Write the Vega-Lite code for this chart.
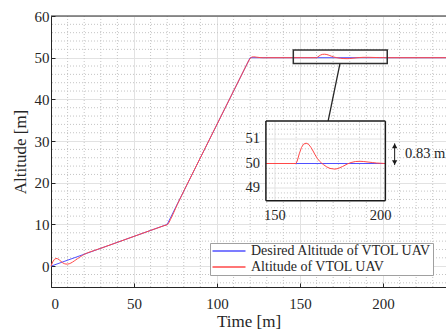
{
  "$schema": "https://vega.github.io/schema/vega-lite/v6.json",
  "width": 395,
  "height": 271,
  "autosize": {"type": "none"},
  "padding": {"left": 51, "top": 16, "right": 0, "bottom": 44},
  "config": {
    "view": {"stroke": null},
    "font": "Liberation Serif",
    "axis": {
      "labelFont": "Liberation Serif",
      "titleFont": "Liberation Serif",
      "labelColor": "#262626",
      "titleColor": "#262626",
      "domainColor": "#262626",
      "tickColor": "#262626",
      "labelFontWeight": "normal",
      "titleFontWeight": "normal"
    },
    "legend": {"labelFont": "Liberation Serif"}
  },
  "datasets": {
    "one": [{"k": 1}],
    "alt": [
      {"t": 0, "alt": 0, "s": "Desired Altitude of VTOL UAV"},
      {"t": 70, "alt": 10, "s": "Desired Altitude of VTOL UAV"},
      {"t": 120, "alt": 50, "s": "Desired Altitude of VTOL UAV"},
      {"t": 145.7, "alt": 50, "s": "Desired Altitude of VTOL UAV"},
      {"t": 202.2, "alt": 50, "s": "Desired Altitude of VTOL UAV"},
      {"t": 238, "alt": 50, "s": "Desired Altitude of VTOL UAV"},
      {"t": 0, "alt": 0, "s": "Altitude of VTOL UAV"},
      {"t": 1, "alt": 1.0, "s": "Altitude of VTOL UAV"},
      {"t": 2, "alt": 1.6, "s": "Altitude of VTOL UAV"},
      {"t": 3, "alt": 1.85, "s": "Altitude of VTOL UAV"},
      {"t": 4, "alt": 1.78, "s": "Altitude of VTOL UAV"},
      {"t": 5, "alt": 1.5, "s": "Altitude of VTOL UAV"},
      {"t": 6, "alt": 1.15, "s": "Altitude of VTOL UAV"},
      {"t": 7, "alt": 0.82, "s": "Altitude of VTOL UAV"},
      {"t": 8, "alt": 0.6, "s": "Altitude of VTOL UAV"},
      {"t": 9, "alt": 0.5, "s": "Altitude of VTOL UAV"},
      {"t": 10, "alt": 0.5, "s": "Altitude of VTOL UAV"},
      {"t": 11, "alt": 0.58, "s": "Altitude of VTOL UAV"},
      {"t": 12, "alt": 0.75, "s": "Altitude of VTOL UAV"},
      {"t": 13, "alt": 0.98, "s": "Altitude of VTOL UAV"},
      {"t": 14, "alt": 1.25, "s": "Altitude of VTOL UAV"},
      {"t": 15, "alt": 1.52, "s": "Altitude of VTOL UAV"},
      {"t": 16, "alt": 1.8, "s": "Altitude of VTOL UAV"},
      {"t": 17, "alt": 2.07, "s": "Altitude of VTOL UAV"},
      {"t": 18, "alt": 2.33, "s": "Altitude of VTOL UAV"},
      {"t": 19, "alt": 2.58, "s": "Altitude of VTOL UAV"},
      {"t": 20, "alt": 2.82, "s": "Altitude of VTOL UAV"},
      {"t": 22, "alt": 3.2, "s": "Altitude of VTOL UAV"},
      {"t": 24, "alt": 3.48, "s": "Altitude of VTOL UAV"},
      {"t": 26, "alt": 3.74, "s": "Altitude of VTOL UAV"},
      {"t": 30, "alt": 4.29, "s": "Altitude of VTOL UAV"},
      {"t": 40, "alt": 5.71, "s": "Altitude of VTOL UAV"},
      {"t": 50, "alt": 7.14, "s": "Altitude of VTOL UAV"},
      {"t": 60, "alt": 8.57, "s": "Altitude of VTOL UAV"},
      {"t": 68, "alt": 9.69, "s": "Altitude of VTOL UAV"},
      {"t": 70, "alt": 9.92, "s": "Altitude of VTOL UAV"},
      {"t": 71, "alt": 10.4, "s": "Altitude of VTOL UAV"},
      {"t": 72, "alt": 11.2, "s": "Altitude of VTOL UAV"},
      {"t": 74, "alt": 12.9, "s": "Altitude of VTOL UAV"},
      {"t": 76, "alt": 14.7, "s": "Altitude of VTOL UAV"},
      {"t": 80, "alt": 18, "s": "Altitude of VTOL UAV"},
      {"t": 118, "alt": 48.4, "s": "Altitude of VTOL UAV"},
      {"t": 119, "alt": 49.2, "s": "Altitude of VTOL UAV"},
      {"t": 120, "alt": 49.85, "s": "Altitude of VTOL UAV"},
      {"t": 121, "alt": 50.15, "s": "Altitude of VTOL UAV"},
      {"t": 122, "alt": 50.22, "s": "Altitude of VTOL UAV"},
      {"t": 124, "alt": 50.12, "s": "Altitude of VTOL UAV"},
      {"t": 126, "alt": 50.03, "s": "Altitude of VTOL UAV"},
      {"t": 128, "alt": 49.98, "s": "Altitude of VTOL UAV"},
      {"t": 130, "alt": 50, "s": "Altitude of VTOL UAV"},
      {"t": 145.7, "alt": 50, "s": "Altitude of VTOL UAV"},
      {"t": 159.9, "alt": 50, "s": "Altitude of VTOL UAV"},
      {"t": 160.5, "alt": 50.1, "s": "Altitude of VTOL UAV"},
      {"t": 161.5, "alt": 50.4, "s": "Altitude of VTOL UAV"},
      {"t": 162.5, "alt": 50.65, "s": "Altitude of VTOL UAV"},
      {"t": 163.5, "alt": 50.79, "s": "Altitude of VTOL UAV"},
      {"t": 164.7, "alt": 50.83, "s": "Altitude of VTOL UAV"},
      {"t": 165.8, "alt": 50.79, "s": "Altitude of VTOL UAV"},
      {"t": 167, "alt": 50.66, "s": "Altitude of VTOL UAV"},
      {"t": 168, "alt": 50.51, "s": "Altitude of VTOL UAV"},
      {"t": 169, "alt": 50.35, "s": "Altitude of VTOL UAV"},
      {"t": 170, "alt": 50.21, "s": "Altitude of VTOL UAV"},
      {"t": 171, "alt": 50.1, "s": "Altitude of VTOL UAV"},
      {"t": 172, "alt": 50.02, "s": "Altitude of VTOL UAV"},
      {"t": 173, "alt": 49.95, "s": "Altitude of VTOL UAV"},
      {"t": 174.5, "alt": 49.86, "s": "Altitude of VTOL UAV"},
      {"t": 176, "alt": 49.8, "s": "Altitude of VTOL UAV"},
      {"t": 178.4, "alt": 49.77, "s": "Altitude of VTOL UAV"},
      {"t": 180, "alt": 49.8, "s": "Altitude of VTOL UAV"},
      {"t": 182, "alt": 49.88, "s": "Altitude of VTOL UAV"},
      {"t": 184.2, "alt": 49.98, "s": "Altitude of VTOL UAV"},
      {"t": 186, "alt": 50.04, "s": "Altitude of VTOL UAV"},
      {"t": 188, "alt": 50.08, "s": "Altitude of VTOL UAV"},
      {"t": 190.2, "alt": 50.09, "s": "Altitude of VTOL UAV"},
      {"t": 192, "alt": 50.08, "s": "Altitude of VTOL UAV"},
      {"t": 194, "alt": 50.06, "s": "Altitude of VTOL UAV"},
      {"t": 196, "alt": 50.04, "s": "Altitude of VTOL UAV"},
      {"t": 198, "alt": 50.02, "s": "Altitude of VTOL UAV"},
      {"t": 200, "alt": 50.01, "s": "Altitude of VTOL UAV"},
      {"t": 202.2, "alt": 50, "s": "Altitude of VTOL UAV"},
      {"t": 238, "alt": 50, "s": "Altitude of VTOL UAV"}
    ],
    "gx": [{"v": 10}, {"v": 20}, {"v": 30}, {"v": 40}, {"v": 60}, {"v": 70}, {"v": 80}, {"v": 90}, {"v": 110}, {"v": 120}, {"v": 130}, {"v": 140}, {"v": 160}, {"v": 170}, {"v": 180}, {"v": 190}, {"v": 210}, {"v": 220}, {"v": 230}],
    "gy": [{"v": -4}, {"v": -2}, {"v": 2}, {"v": 4}, {"v": 6}, {"v": 8}, {"v": 12}, {"v": 14}, {"v": 16}, {"v": 18}, {"v": 22}, {"v": 24}, {"v": 26}, {"v": 28}, {"v": 32}, {"v": 34}, {"v": 36}, {"v": 38}, {"v": 42}, {"v": 44}, {"v": 46}, {"v": 48}, {"v": 52}, {"v": 54}, {"v": 56}, {"v": 58}],
    "ix": [{"v": 160}, {"v": 170}, {"v": 180}, {"v": 190}],
    "ixm": [{"v": 150}, {"v": 200}],
    "ixb": [{"v": 145.7}, {"v": 202.2}],
    "iyb": [{"v": 48.48}, {"v": 51.73}],
    "iy": [{"v": 48.6}, {"v": 48.8}, {"v": 49.2}, {"v": 49.4}, {"v": 49.6}, {"v": 49.8}, {"v": 50.2}, {"v": 50.4}, {"v": 50.6}, {"v": 50.8}, {"v": 51.2}, {"v": 51.4}, {"v": 51.6}],
    "iym": [{"v": 49}, {"v": 50}, {"v": 51}]
  },
  "layer": [
    {
      "layer": [
        {
          "data": {"name": "gx"},
          "mark": {"type": "rule", "color": "#c4c4c4", "strokeDash": [1, 2], "strokeWidth": 1},
          "encoding": {
            "x": {
              "field": "v", "type": "quantitative",
              "scale": {"domain": [0, 238], "nice": false, "zero": false},
              "axis": {
                "orient": "bottom", "values": [0, 50, 100, 150, 200],
                "grid": true, "gridColor": "#e2e2e2", "gridWidth": 1,
                "tickSize": -4, "labelPadding": 13, "labelFontSize": 15,
                "labelFont": "Liberation Serif", "titleFont": "Liberation Serif",
                "title": "Time [m]", "titleFontSize": 17, "titlePadding": 2,
                "domainWidth": 1
              }
            }
          }
        },
        {
          "data": {"name": "gy"},
          "mark": {"type": "rule", "color": "#c4c4c4", "strokeDash": [1, 2], "strokeWidth": 1},
          "encoding": {
            "y": {
              "field": "v", "type": "quantitative",
              "scale": {"domain": [-5, 60], "nice": false, "zero": false},
              "axis": {
                "orient": "left", "values": [0, 10, 20, 30, 40, 50, 60],
                "grid": true, "gridColor": "#e2e2e2", "gridWidth": 1,
                "tickSize": -4, "labelPadding": 6, "labelFontSize": 15,
                "labelFont": "Liberation Serif", "titleFont": "Liberation Serif",
                "title": "Altitude [m]", "titleFontSize": 17, "titlePadding": 5,
                "domainWidth": 1
              }
            }
          }
        },
        {
          "data": {"name": "one"},
          "mark": {"type": "rule", "color": "#262626", "strokeWidth": 1},
          "encoding": {"y": {"datum": 60, "type": "quantitative"}}
        },
        {
          "data": {"name": "alt"},
          "transform": [{"filter": "datum.s === 'Desired Altitude of VTOL UAV'"}],
          "mark": {"type": "line", "strokeWidth": 1},
          "encoding": {
            "x": {"field": "t", "type": "quantitative"},
            "y": {"field": "alt", "type": "quantitative"},
            "color": {
              "field": "s", "type": "nominal",
              "scale": {"domain": ["Desired Altitude of VTOL UAV", "Altitude of VTOL UAV"], "range": ["#5050ff", "#ff4848"]},
              "legend": {
                "orient": "none", "legendX": 159, "legendY": 227, "title": null,
                "symbolType": "M-1,0H5", "symbolSize": 121, "symbolStrokeWidth": 1.5,
                "labelFontSize": 14, "labelColor": "#262626", "labelOffset": 26, "labelLimit": 400,
                "labelFont": "Liberation Serif",
                "padding": 1, "fillColor": "white", "strokeColor": "#a0a0a0",
                "rowPadding": 2, "zindex": 3
              }
            }
          }
        },
        {
          "data": {"name": "alt"},
          "transform": [{"filter": "datum.s === 'Altitude of VTOL UAV'"}],
          "mark": {"type": "line", "strokeWidth": 1},
          "encoding": {
            "x": {"field": "t", "type": "quantitative"},
            "y": {"field": "alt", "type": "quantitative"},
            "color": {"field": "s", "type": "nominal"}
          }
        },
        {
          "data": {"name": "one"},
          "mark": {"type": "rect", "fill": null, "stroke": "#303030", "strokeWidth": 1.5},
          "encoding": {
            "x": {"datum": 146, "type": "quantitative"},
            "x2": {"datum": 202.6},
            "y": {"datum": 48.6, "type": "quantitative"},
            "y2": {"datum": 51.85}
          }
        },
        {
          "data": {"name": "one"},
          "mark": {"type": "rule", "color": "#262626", "strokeWidth": 1.3},
          "encoding": {
            "x": {"datum": 174.1, "type": "quantitative"},
            "x2": {"datum": 167},
            "y": {"datum": 48.6, "type": "quantitative"},
            "y2": {"datum": 34.83}
          }
        }
      ]
    },
    {
      "layer": [
        {
          "data": {"name": "one"},
          "mark": {"type": "rect", "fill": "white", "stroke": null},
          "encoding": {
            "x": {"datum": 145.7, "type": "quantitative", "axis": null,
              "scale": {"domain": [44.04, 230.89], "nice": false, "zero": false}},
            "x2": {"datum": 202.2},
            "y": {"datum": 48.48, "type": "quantitative", "axis": null,
              "scale": {"domain": [44.96, 56.02], "nice": false, "zero": false}},
            "y2": {"datum": 51.73}
          }
        },
        {
          "data": {"name": "ix"},
          "mark": {"type": "rule", "color": "#c4c4c4", "strokeDash": [1, 2], "strokeWidth": 1},
          "encoding": {
            "x": {"field": "v", "type": "quantitative"},
            "y": {"datum": 48.48, "type": "quantitative"},
            "y2": {"datum": 51.73}
          }
        },
        {
          "data": {"name": "iy"},
          "mark": {"type": "rule", "color": "#c4c4c4", "strokeDash": [1, 2], "strokeWidth": 1},
          "encoding": {
            "y": {"field": "v", "type": "quantitative"},
            "x": {"datum": 145.7, "type": "quantitative"},
            "x2": {"datum": 202.2}
          }
        },
        {
          "data": {"name": "ixm"},
          "mark": {"type": "rule", "color": "#e2e2e2", "strokeWidth": 1},
          "encoding": {
            "x": {"field": "v", "type": "quantitative"},
            "y": {"datum": 48.48, "type": "quantitative"},
            "y2": {"datum": 51.73}
          }
        },
        {
          "data": {"name": "iym"},
          "mark": {"type": "rule", "color": "#e2e2e2", "strokeWidth": 1},
          "encoding": {
            "y": {"field": "v", "type": "quantitative"},
            "x": {"datum": 145.7, "type": "quantitative"},
            "x2": {"datum": 202.2}
          }
        },
        {
          "data": {"name": "alt"},
          "transform": [{"filter": "datum.s === 'Desired Altitude of VTOL UAV' && datum.t >= 145.7 && datum.t <= 202.2"}],
          "mark": {"type": "line", "strokeWidth": 1, "color": "#5050ff"},
          "encoding": {
            "x": {"field": "t", "type": "quantitative"},
            "y": {"field": "alt", "type": "quantitative"}
          }
        },
        {
          "data": {"name": "alt"},
          "transform": [{"filter": "datum.s === 'Altitude of VTOL UAV' && datum.t >= 145.7 && datum.t <= 202.2"}],
          "mark": {"type": "line", "strokeWidth": 1, "color": "#ff4848"},
          "encoding": {
            "x": {"field": "t", "type": "quantitative"},
            "y": {"field": "alt", "type": "quantitative"}
          }
        },
        {
          "data": {"name": "ixb"},
          "mark": {"type": "rule", "color": "#1a1a1a", "strokeWidth": 1.5},
          "encoding": {
            "x": {"field": "v", "type": "quantitative"},
            "y": {"datum": 48.48, "type": "quantitative"},
            "y2": {"datum": 51.73}
          }
        },
        {
          "data": {"name": "iyb"},
          "mark": {"type": "rule", "color": "#1a1a1a", "strokeWidth": 1.5},
          "encoding": {
            "y": {"field": "v", "type": "quantitative"},
            "x": {"datum": 145.7, "type": "quantitative"},
            "x2": {"datum": 202.2}
          }
        },
        {
          "data": {"name": "iym"},
          "mark": {"type": "text", "align": "right", "baseline": "middle", "dx": -6, "font": "Liberation Serif", "fontSize": 14.5, "color": "#262626"},
          "encoding": {
            "x": {"datum": 145.7, "type": "quantitative"},
            "y": {"field": "v", "type": "quantitative"},
            "text": {"field": "v", "type": "quantitative", "format": "d"}
          }
        },
        {
          "data": {"name": "ixm"},
          "mark": {"type": "text", "align": "center", "baseline": "top", "dy": 8, "font": "Liberation Serif", "fontSize": 14.5, "color": "#262626"},
          "encoding": {
            "x": {"field": "v", "type": "quantitative"},
            "y": {"datum": 48.48, "type": "quantitative"},
            "text": {"field": "v", "type": "quantitative", "format": "d"}
          }
        },
        {
          "data": {"name": "one"},
          "mark": {"type": "rule", "color": "#1a1a1a", "strokeWidth": 1},
          "encoding": {
            "x": {"datum": 206.6, "type": "quantitative"},
            "y": {"datum": 49.94, "type": "quantitative"},
            "y2": {"datum": 50.82}
          }
        },
        {
          "data": {"name": "one"},
          "mark": {"type": "point", "shape": "triangle-up", "filled": true, "color": "#1a1a1a", "size": 28, "opacity": 1},
          "encoding": {
            "x": {"datum": 206.6, "type": "quantitative"},
            "y": {"datum": 50.72, "type": "quantitative"}
          }
        },
        {
          "data": {"name": "one"},
          "mark": {"type": "point", "shape": "triangle-down", "filled": true, "color": "#1a1a1a", "size": 28, "opacity": 1},
          "encoding": {
            "x": {"datum": 206.6, "type": "quantitative"},
            "y": {"datum": 50.04, "type": "quantitative"}
          }
        },
        {
          "data": {"name": "one"},
          "mark": {"type": "text", "text": "0.83 m", "align": "left", "baseline": "middle", "font": "Liberation Serif", "fontWeight": "normal", "fontSize": 14.5, "color": "#262626"},
          "encoding": {
            "x": {"datum": 211.5, "type": "quantitative"},
            "y": {"datum": 50.37, "type": "quantitative"}
          }
        }
      ]
    }
  ],
  "resolve": {"scale": {"x": "independent", "y": "independent"}}
}
